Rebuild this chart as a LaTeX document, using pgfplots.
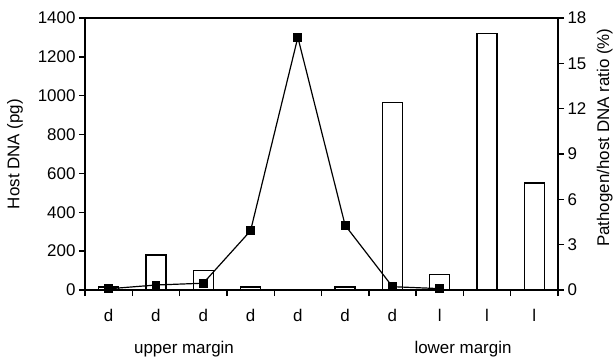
\documentclass[border=0pt]{standalone}
\usepackage{fontspec}
\setmainfont{Liberation Sans}
\usepackage{pgfplots}
\pgfplotsset{compat=1.18}
\begin{document}
\begin{tikzpicture}
\pgfplotsset{
  every axis/.append style={font=\fontsize{17}{20}\selectfont},
  every tick/.style={black, line width=1.4bp},
}
\begin{axis}[
  at={(0,0)}, anchor=south west,
  scale only axis, width=473bp, height=272bp,
  xmin=-0.5, xmax=9.5, ymin=0, ymax=1400,
  xtick={0,...,9}, xticklabels={d,d,d,d,d,d,d,l,l,l},
  major x tick style={draw=none},
  minor xtick={-0.5,0.5,...,9.5},
  xtick pos=bottom, ytick pos=left,
  tick align=outside,
  major tick length=6bp, minor tick length=6bp,
  ytick={0,200,...,1400},
  /pgf/number format/assume math mode=true,
  yticklabel style={/pgf/number format/1000 sep={}},
  xticklabel style={yshift=-10bp},
  axis line style={line width=1.4bp},
  ylabel={Host DNA (pg)},
  ylabel style={at={(axis description cs:-0.148,0.5)}, anchor=center},
  ybar, bar width=20bp,
]
\addplot[draw=black, fill=white, line width=1.4bp] coordinates {
  (0,15) (1,180) (2,100) (3,15) (4,0) (5,15) (6,965) (7,80) (8,1320) (9,550)
};
\end{axis}
\begin{axis}[
  at={(0,0)}, anchor=south west,
  scale only axis, width=473bp, height=272bp,
  xmin=-0.5, xmax=9.5, ymin=0, ymax=18,
  axis x line=none,
  axis y line*=right,
  ytick={0,3,...,18},
  tick align=outside,
  major tick length=6bp,
  /pgf/number format/assume math mode=true,
  axis line style={line width=1.4bp},
  ylabel={Pathogen/host DNA ratio (\%)},
  ylabel style={at={(axis description cs:1.099,0.56)}, anchor=center, rotate=0},
]
\addplot[black, line width=1.2bp, mark=square*, mark size=3.8bp] coordinates {
  (0,0.08) (1,0.33) (2,0.45) (3,3.92) (4,16.72) (5,4.28) (6,0.22) (7,0.09)
};
\end{axis}
\node at (99bp,-59bp) {\fontsize{17}{20}\selectfont upper margin};
\node at (378bp,-59bp) {\fontsize{17}{20}\selectfont lower margin};
\pgfresetboundingbox
\path (-85bp,-71bp) rectangle (531bp,290bp);
\end{tikzpicture}
\end{document}
